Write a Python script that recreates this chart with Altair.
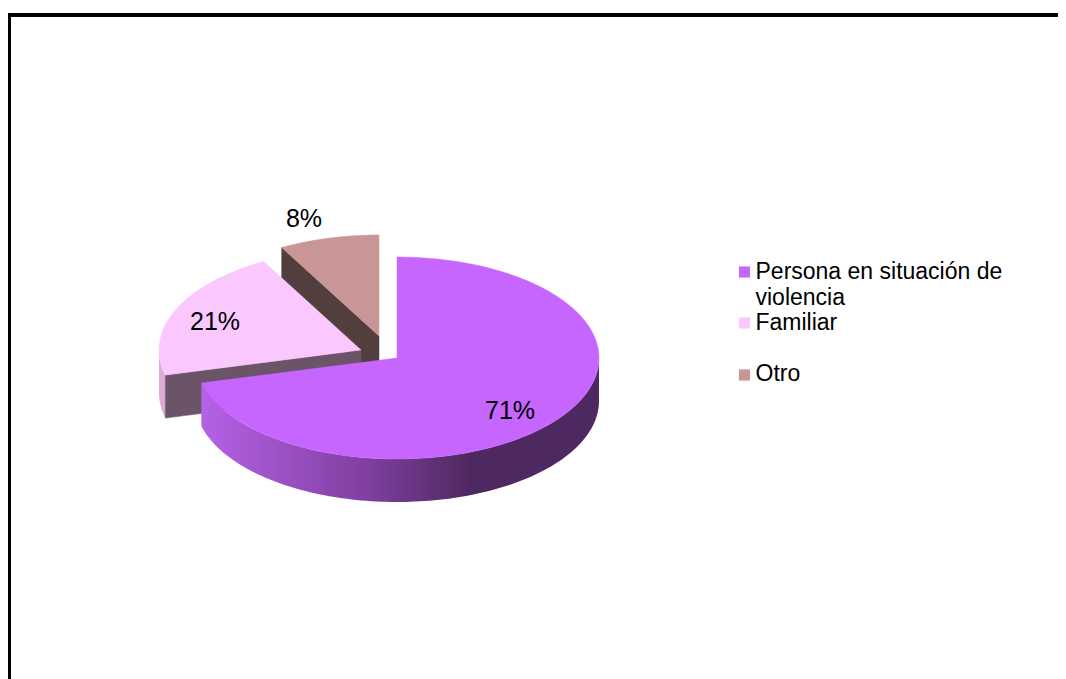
import numpy as np
import pandas as pd
import altair as alt

# --- data
categories = ["Persona en situación de|violencia", "Familiar", "Otro"]
shares = [71, 21, 8]
labels = ["71%", "21%", "8%"]
colors = ["#C666FF", "#FAC8FF", "#C89694"]

# --- layout (page pixels)
W, H = 1050, 671
RX, RY, DEPTH = 202, 101, 43
APEX = [(397, 358), (361, 350), (379, 336)]      # exploded slice apexes
LABEL_AT = [(510, 411), (215, 322), (304, 219)]
ACCENT_WALL = {"fam_cut": "#6B5368", "fam_side": "#DDADD8", "otro_cut": "#533E3E"}

ends = np.cumsum(shares) / np.sum(shares) * 360
starts = np.concatenate([[0], ends[:-1]])


def pt(i, deg, dz=0):
    a = np.radians(deg)
    return APEX[i][0] + RX * np.sin(a), APEX[i][1] - RY * np.cos(a) + dz


sx = alt.Scale(domain=[8, 8 + W], nice=False, zero=False)
sy = alt.Scale(domain=[8 + H, 8], nice=False, zero=False)
xs = alt.X("x:Q", axis=None, scale=sx)
ys = alt.Y("y:Q", axis=None, scale=sy)


def polygon(points, fill):
    df = pd.DataFrame(points, columns=["x", "y"])
    df["o"] = range(len(df))
    return alt.Chart(df).mark_line(fill=fill, stroke=fill, strokeWidth=0.5).encode(
        x=xs, y=ys, order="o:Q"
    )


def top_face(i):
    arc = [pt(i, d) for d in np.linspace(starts[i], ends[i], 90)]
    return polygon([APEX[i]] + arc + [APEX[i]], colors[i])


def cut_face(i, deg, fill):
    a, b = APEX[i], pt(i, deg)
    return polygon([a, b, (b[0], b[1] + DEPTH), (a[0], a[1] + DEPTH), a], fill)


def wall(i, d0, d1, fill):
    rows = []
    for d in np.linspace(d0, d1, 120):
        x, y = pt(i, d)
        rows.append({"x": x, "y": y, "y2": y + DEPTH})
    return alt.Chart(pd.DataFrame(rows)).mark_area(fill=fill).encode(
        x=xs, y=ys, y2="y2:Q"
    )


main_grad = alt.Gradient(
    gradient="linear", x1=0, x2=1, y1=0, y2=0,
    stops=[
        alt.GradientStop(color="#B562E6", offset=0),
        alt.GradientStop(color="#7F3F9E", offset=0.42),
        alt.GradientStop(color="#4E2860", offset=0.68),
        alt.GradientStop(color="#4E2860", offset=1),
    ],
)

frame_top = alt.Chart(pd.DataFrame({"k": [0]})).mark_rule(color="#000000", strokeWidth=4).encode(
    x=alt.value(0), x2=alt.value(W), y=alt.value(7)
)
frame_left = alt.Chart(pd.DataFrame({"k": [0]})).mark_rule(color="#000000", strokeWidth=3).encode(
    x=alt.value(1.5), y=alt.value(5), y2=alt.value(H)
)

pct = pd.DataFrame({"x": [p[0] for p in LABEL_AT], "y": [p[1] for p in LABEL_AT], "t": labels})
pct_text = alt.Chart(pct).mark_text(
    font="Liberation Sans", fontSize=25, color="#000000", align="center", baseline="middle"
).encode(x=xs, y=ys, text="t:N")

LEG_X_SYM, LEG_X_TXT = 744.5, 755.5
leg = pd.DataFrame({
    "cat": categories,
    "x_sym": LEG_X_SYM,
    "x_txt": LEG_X_TXT,
    "y_sym": [272.0, 323.0, 375.0],
    "y_txt": [279.0, 330.0, 381.0],
})
color_enc = alt.Color("cat:N", legend=None, scale=alt.Scale(domain=categories, range=colors))
leg_sym = alt.Chart(leg).mark_square(size=125, opacity=1).encode(
    x=alt.X("x_sym:Q", axis=None, scale=sx), y=alt.Y("y_sym:Q", axis=None, scale=sy), color=color_enc
)
leg_txt = alt.Chart(leg).mark_text(
    font="Liberation Sans", fontSize=23, color="#000000", align="left",
    baseline="alphabetic", lineBreak="|", lineHeight=26,
).encode(
    x=alt.X("x_txt:Q", axis=None, scale=sx), y=alt.Y("y_txt:Q", axis=None, scale=sy), text="cat:N"
)

chart = alt.layer(
    frame_top, frame_left,
    cut_face(2, ends[1], ACCENT_WALL["otro_cut"]),
    top_face(2),
    wall(1, starts[1], 270, ACCENT_WALL["fam_side"]),
    cut_face(1, starts[1], ACCENT_WALL["fam_cut"]),
    top_face(1),
    wall(0, 90, ends[0], main_grad),
    top_face(0),
    pct_text, leg_sym, leg_txt,
).properties(
    width=W, height=H, padding=0, autosize=alt.AutoSizeParams(type="none")
).configure_view(stroke=None)

chart.save("out.html", embed_options={"renderer": "svg", "actions": False})
